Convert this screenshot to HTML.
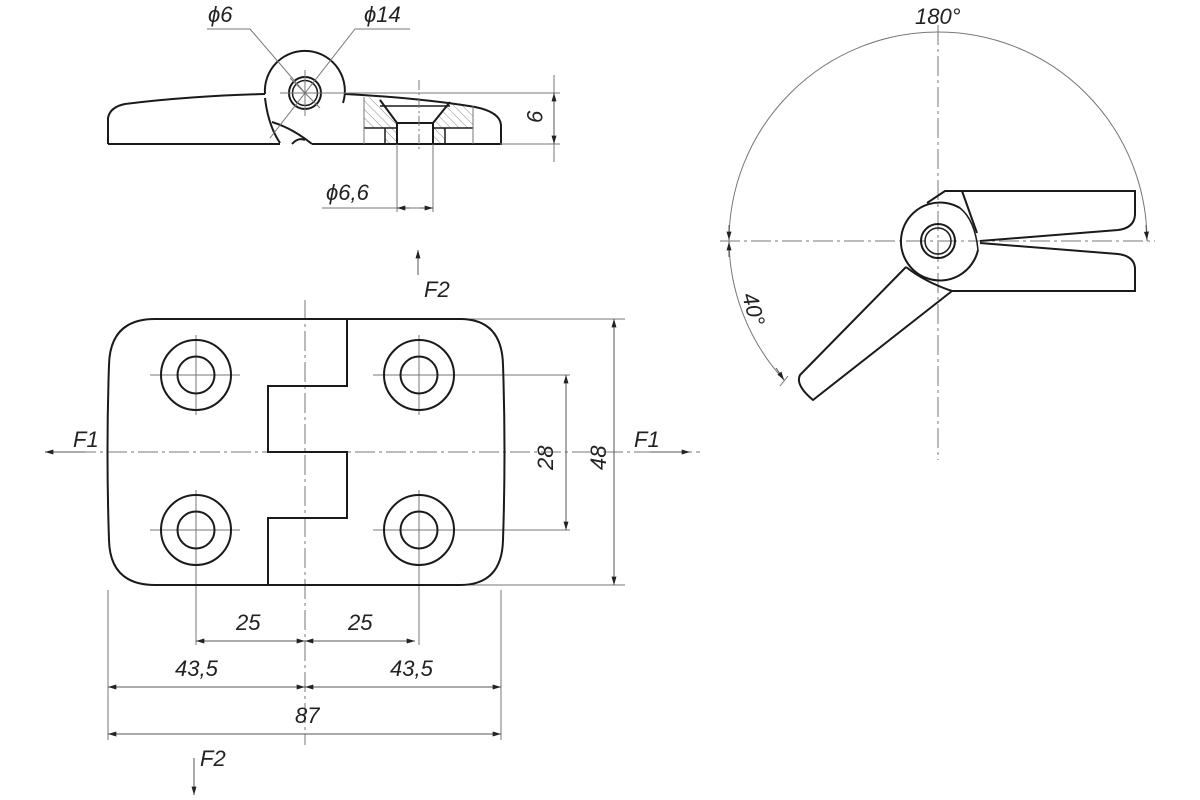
<!DOCTYPE html>
<html><head><meta charset="utf-8"><style>
html,body{margin:0;padding:0;background:#fff;}
svg{display:block}
text{font-family:"Liberation Sans",sans-serif;font-style:italic;fill:#222;}
</style></head><body>
<svg width="1200" height="800" viewBox="0 0 1200 800" xmlns="http://www.w3.org/2000/svg">
<defs>
<pattern id="h" width="6" height="6" patternUnits="userSpaceOnUse" patternTransform="rotate(-45)">
<line x1="0" y1="0" x2="0" y2="6" stroke="#888" stroke-width="1"/></pattern>
<marker id="a" viewBox="0 0 10 6" refX="10" refY="3" markerWidth="12" markerHeight="5" orient="auto-start-reverse" markerUnits="userSpaceOnUse"><path d="M0,0 L10,3 L0,6z" fill="#222"/></marker>
</defs>

<!-- ===== TOP VIEW ===== -->
<g fill="none" stroke="#1a1a1a" stroke-width="2">
<!-- section hatched area -->
<path d="M364,97 L380,99 L397,123 L397,144 L385,144 L385,128 L364,128Z" fill="url(#h)" stroke="none"/>
<path d="M450,102 L473,105 L473,128 L445,128 L445,144 L433,144 L433,123Z" fill="url(#h)" stroke="none"/>
<path d="M108,144 L108,118 Q110,107 125,104 Q190,96 265,94"/>
<path d="M108,144 L280,144"/>
<path d="M312,144 L501,144 L501,125 Q500,112 475,107 Q420,98 345,94"/>
<path d="M265,94 A40,40 0 1,1 343,103"/>
<path d="M265,98 Q268,125 280,143"/>
<path d="M272,122 Q292,128 312,144"/>
<path d="M292,144 Q298,137 305,140"/>
<circle cx="305" cy="93" r="16"/>
<circle cx="305" cy="93" r="12.5" stroke-width="1.5"/>
<path d="M380,100 L397,123 L433,123 L450,102" />
<path d="M380,106 L450,106" stroke-width="1.5"/>
<path d="M397,123 L397,144 M433,123 L433,144"/>
<path d="M364,128 L397,128 M433,128 L473,128" stroke-width="1.5"/>
<path d="M385,128 L385,144 M445,128 L445,144" stroke-width="1.5"/>
<path d="M364,97 L364,144 M473,106 L473,144" stroke-width="1" stroke="#777"/>
</g>
<g fill="none" stroke="#777" stroke-width="1">
<path d="M207,29 L250,29 L305,93 M290,78 L320,108"/>
<path d="M410,29 L355,29 L270,138"/>
<path d="M280,93 L330,93 M305,70 L305,116"/>
<path d="M330,93 L560,93 M500,144 L560,144"/>
<path d="M419,80 L419,150" stroke-dasharray="10,3,2,3"/>
<path d="M397,144 L397,212 M433,144 L433,212 M322,208 L433,208"/>
</g>
<line x1="554" y1="93" x2="554" y2="144" stroke="#555" stroke-width="1" marker-start="url(#a)" marker-end="url(#a)"/>
<line x1="554" y1="75" x2="554" y2="93" stroke="#777"/>
<line x1="554" y1="144" x2="554" y2="162" stroke="#777"/>
<line x1="410" y1="208" x2="397" y2="208" stroke="#555" marker-end="url(#a)"/>
<line x1="420" y1="208" x2="433" y2="208" stroke="#555" marker-end="url(#a)"/>
<text x="208" y="22" font-size="22">ϕ6</text>
<text x="364" y="22" font-size="22">ϕ14</text>
<text x="326" y="200" font-size="22">ϕ6,6</text>
<text transform="translate(527,110) rotate(90)" font-size="22">9</text>

<!-- ===== PLAN VIEW ===== -->
<g fill="none" stroke="#777" stroke-width="1">
<path d="M45,452 L700,452" stroke-dasharray="20,4,3,4"/>
<path d="M305,300 L305,745" stroke-dasharray="20,4,3,4"/>
<path d="M150,375 L240,375 M196,335 L196,415 M373,375 L465,375 M419,335 L419,415"/>
<path d="M150,530 L240,530 M196,490 L196,570 M373,530 L465,530 M419,490 L419,570"/>
<path d="M465,375 L570,375 M465,530 L570,530"/>
<path d="M460,319 L625,319 M460,585 L625,585"/>
<path d="M108,590 L108,740 M501,590 L501,740 M196,570 L196,645 M419,570 L419,645"/>
</g>
<g fill="none" stroke="#1a1a1a" stroke-width="2">
<path d="M155,319 L460,319 Q502,319 503,365 Q506,452 503,540 Q502,585 460,585 L155,585 Q110,585 109,540 Q106,452 109,365 Q110,319 155,319Z"/>
<path d="M347,319 L347,386 L268,386 L268,452 L347,452 L347,518 L268,518 L268,585"/>
<circle cx="196" cy="375" r="35"/><circle cx="196" cy="375" r="18.5"/>
<circle cx="419" cy="375" r="35"/><circle cx="419" cy="375" r="18.5"/>
<circle cx="196" cy="530" r="35"/><circle cx="196" cy="530" r="18.5"/>
<circle cx="419" cy="530" r="35"/><circle cx="419" cy="530" r="18.5"/>
</g>
<g stroke="#555" stroke-width="1">
<line x1="566" y1="375" x2="566" y2="530" marker-start="url(#a)" marker-end="url(#a)"/>
<line x1="614" y1="319" x2="614" y2="585" marker-start="url(#a)" marker-end="url(#a)"/>
<line x1="196" y1="641" x2="305" y2="641" marker-start="url(#a)" marker-end="url(#a)"/>
<line x1="305" y1="641" x2="415" y2="641" marker-start="url(#a)" marker-end="url(#a)"/>
<line x1="108" y1="687" x2="305" y2="687" marker-start="url(#a)" marker-end="url(#a)"/>
<line x1="305" y1="687" x2="501" y2="687" marker-start="url(#a)" marker-end="url(#a)"/>
<line x1="108" y1="734" x2="501" y2="734" marker-start="url(#a)" marker-end="url(#a)"/>
<line x1="85" y1="452" x2="45" y2="452" marker-end="url(#a)"/>
<line x1="650" y1="452" x2="690" y2="452" marker-end="url(#a)"/>
<line x1="418" y1="275" x2="418" y2="250" marker-end="url(#a)"/>
<line x1="194" y1="758" x2="194" y2="795" marker-end="url(#a)"/>
</g>
<text x="236" y="630" font-size="22">25</text>
<text x="348" y="630" font-size="22">25</text>
<text x="175" y="676" font-size="22">43,5</text>
<text x="390" y="676" font-size="22">43,5</text>
<text x="295" y="723" font-size="22">87</text>
<text x="73" y="447" font-size="22">F1</text>
<text x="634" y="447" font-size="22">F1</text>
<text x="424" y="297" font-size="22">F2</text>
<text x="200" y="766" font-size="22">F2</text>
<text transform="translate(553,470) rotate(-90)" font-size="22">28</text>
<text transform="translate(606,470) rotate(-90)" font-size="22">48</text>

<!-- ===== ROTATION VIEW ===== -->
<g fill="none" stroke="#777" stroke-width="1">
<path d="M938,25 L938,460" stroke-dasharray="20,4,3,4"/>
<path d="M720,241 L1155,241" stroke-dasharray="20,4,3,4"/>
<path d="M729,241 A209,209 0 0,1 1147,241"/>
<path d="M729,241 A209,209 0 0,0 784,380"/>
<path d="M780,386 L788,376"/>
</g>
<line x1="1146" y1="225" x2="1147" y2="240" stroke="#555" marker-end="url(#a)"/>
<line x1="729" y1="225" x2="729" y2="240" stroke="#555" marker-end="url(#a)"/>
<line x1="729" y1="257" x2="729" y2="242" stroke="#555" marker-end="url(#a)"/>
<line x1="776" y1="368" x2="784" y2="380" stroke="#555" marker-end="url(#a)"/>
<g fill="none" stroke="#1a1a1a" stroke-width="2">
<path d="M927,203 L945,191 L1135,191 L1135,215 Q1134,228 1118,230 L980,241"/>
<path d="M962,191 L977,233"/>
<path d="M980,243 L1118,254 Q1134,256 1135,268 L1135,291 L952,291"/>
<path d="M978,250 A39,39 0 1,1 960,208"/>
<path d="M960,208 Q975,220 978,250" stroke-width="1.5"/>
<path d="M906,267 Q925,282 952,291"/>
<path d="M906,267 L800,375 Q795,385 813,400 L952,291"/>
<circle cx="938" cy="241" r="17"/>
<circle cx="938" cy="241" r="13" stroke-width="1.5"/>
</g>
<text x="915" y="24" font-size="22">180°</text>
<text transform="translate(742,295) rotate(75)" font-size="22">40°</text>
</svg>
</body></html>
